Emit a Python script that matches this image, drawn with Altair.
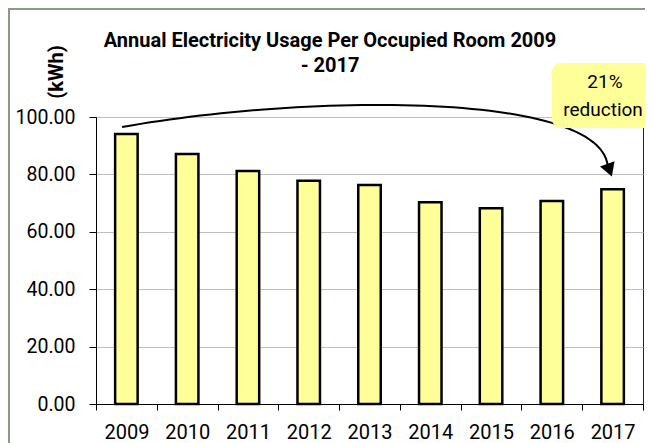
import altair as alt
import pandas as pd
import numpy as np

# ---- data ----
years = ["2009", "2010", "2011", "2012", "2013", "2014", "2015", "2016", "2017"]
usage = [94.1, 87.1, 81.2, 77.8, 76.3, 70.3, 68.2, 70.7, 74.8]
y_ticks = [0, 20, 40, 60, 80, 100]
title_lines = ["Annual Electricity Usage Per Occupied Room 2009", "- 2017"]
unit_label = "(kWh)"
callout_lines = ["21%", "reduction"]

# curved arrow (decoration): bezier control points in (category position, kWh)
arrow_ctrl_x = [0.43, 3.36, 8.29, 8.42]
arrow_ctrl_y = [96.5, 107.7, 109.4, 82.9]
arrow_head_x = [8.45]
arrow_head_y = [81.5]

W, H = 547, 287
FONT = "Roboto"

df = pd.DataFrame({"Year": years, "kWh": usage})

t = np.linspace(0, 1, 60)
bx = np.array(arrow_ctrl_x)
by = np.array(arrow_ctrl_y)
coef = np.stack([(1 - t) ** 3, 3 * (1 - t) ** 2 * t, 3 * (1 - t) * t ** 2, t ** 3], axis=1)
arrow_df = pd.DataFrame({"ax": coef @ bx, "kWh": coef @ by, "o": np.arange(len(t))})
head_df = pd.DataFrame({"ax": arrow_head_x, "kWh": arrow_head_y})

yscale = alt.Scale(domain=[0, 100], nice=False, zero=True)
xlin = alt.Scale(domain=[0, 9], nice=False, zero=False)

yaxis = alt.Axis(values=y_ticks, format=".2f", title=None, tickSize=7,
                 labelPadding=14, labelFontSize=19.5, labelFont=FONT,
                 labelColor="black", domainColor="black", tickColor="black",
                 gridColor="#bfbfbf", gridWidth=1)

bars = alt.Chart(df).mark_bar(
    size=22.5, color="#ffff99", stroke="black", strokeWidth=2.5
).encode(
    x=alt.X("Year:N", sort=years,
            scale=alt.Scale(paddingInner=0, paddingOuter=0),
            axis=alt.Axis(title=None, labelAngle=0, tickBand="extent", tickSize=6,
                          labelPadding=12, labelFontSize=20, labelFont=FONT,
                          labelColor="black", domainColor="black", tickColor="black",
                          grid=False)),
    y=alt.Y("kWh:Q", scale=yscale, axis=yaxis),
)

curve = alt.Chart(arrow_df).mark_line(color="black", strokeWidth=2, clip=False).encode(
    x=alt.X("ax:Q", scale=xlin, axis=None),
    y=alt.Y("kWh:Q", scale=yscale, axis=yaxis),
    order="o:Q",
)

head = alt.Chart(head_df).mark_point(
    shape="triangle-down", filled=True, color="black", size=240, angle=340, opacity=1
).encode(
    x=alt.X("ax:Q", scale=xlin, axis=None),
    y=alt.Y("kWh:Q", scale=yscale, axis=yaxis),
)

one = alt.Data(values=[{}])

box = alt.Chart(one).mark_rect(color="#ffff99", cornerRadius=9).encode(
    x=alt.value(456), x2=alt.value(575), y=alt.value(-54), y2=alt.value(11)
)
box_t1 = alt.Chart(one).mark_text(font=FONT, fontSize=19, color="black",
                                  align="center", baseline="middle").encode(
    x=alt.value(509), y=alt.value(-35), text=alt.value(callout_lines[0]))
box_t2 = alt.Chart(one).mark_text(font=FONT, fontSize=19, color="black",
                                  align="center", baseline="middle").encode(
    x=alt.value(507), y=alt.value(-7), text=alt.value(callout_lines[1]))

title1 = alt.Chart(one).mark_text(font=FONT, fontSize=20, fontWeight="bold", color="black",
                                  align="center", baseline="alphabetic").encode(
    x=alt.value(234), y=alt.value(-70), text=alt.value(title_lines[0]))
title2 = alt.Chart(one).mark_text(font=FONT, fontSize=20, fontWeight="bold", color="black",
                                  align="center", baseline="alphabetic").encode(
    x=alt.value(234), y=alt.value(-45), text=alt.value(title_lines[1]))
unit = alt.Chart(one).mark_text(font=FONT, fontSize=20, fontWeight="bold", color="black",
                                align="center", baseline="middle", angle=270).encode(
    x=alt.value(-39), y=alt.value(-45), text=alt.value(unit_label))

border_top = alt.Chart(one).mark_rule(color="#8a9a8a", strokeWidth=2).encode(
    x=alt.value(-88), x2=alt.value(560), y=alt.value(-108))
border_left = alt.Chart(one).mark_rule(color="#8a9a8a", strokeWidth=2).encode(
    x=alt.value(-87), y=alt.value(-110), y2=alt.value(340))

chart = alt.layer(
    bars, curve, head, box, box_t1, box_t2, title1, title2, unit, border_top, border_left
).resolve_scale(x="independent").properties(
    width=W, height=H,
    autosize=alt.AutoSizeParams(type="none"),
    padding={"left": 88, "top": 109, "right": 2, "bottom": 40},
    background="white",
).configure_view(stroke="#222222", strokeWidth=1)

chart.save("out.html", embed_options={"renderer": "svg", "actions": False})
